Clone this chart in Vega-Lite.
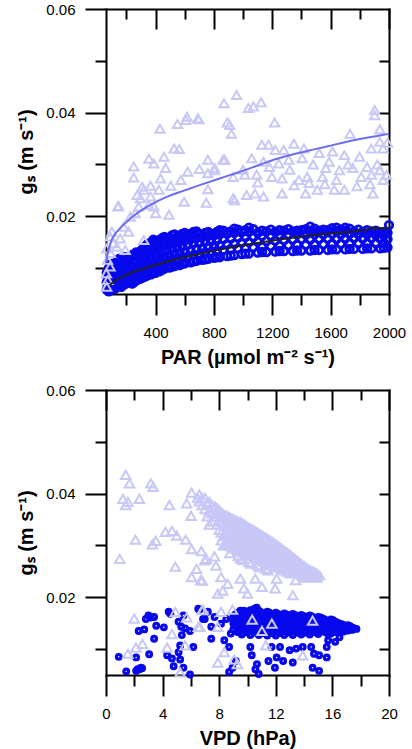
{
"$schema": "https://vega.github.io/schema/vega-lite/v6.json",
"background": "white",
"padding": {"left": 16, "top": 2, "right": 4, "bottom": 2},
"spacing": 96,
"bounds": "flush",
"config": {
  "view": {"stroke": null},
  "axis": {"grid": false, "zindex": 1, "domainColor": "#000", "domainWidth": 2, "domainCap": "square", "tickColor": "#000", "tickWidth": 2, "labelFont": "Liberation Sans", "labelFontSize": 15, "labelColor": "#000", "labelPadding": 10, "titleFont": "Liberation Sans", "titleFontSize": 20, "titleFontWeight": "bold", "titleColor": "#000", "labelFlush": false, "labelOverlap": false, "labelBound": false}
},
"datasets": {
"pt": [
{"par":955,"gs":0.0434},{"par":869,"gs":0.0418},{"par":1036,"gs":0.0409},{"par":615,"gs":0.0392},{"par":696,"gs":0.0387},{"par":550,"gs":0.0378},{"par":430,"gs":0.0369},{"par":892,"gs":0.0381},{"par":920,"gs":0.0359},{"par":527,"gs":0.0331},{"par":562,"gs":0.0330},{"par":354,"gs":0.0311},{"par":458,"gs":0.0315},{"par":388,"gs":0.0302},{"par":250,"gs":0.0296},{"par":469,"gs":0.0293},{"par":250,"gs":0.0275},{"par":758,"gs":0.0309},{"par":862,"gs":0.0309},{"par":700,"gs":0.0291},{"par":804,"gs":0.0289},{"par":620,"gs":0.0286},{"par":573,"gs":0.0270},{"par":434,"gs":0.0273},{"par":365,"gs":0.0259},{"par":308,"gs":0.0257},{"par":504,"gs":0.0259},{"par":758,"gs":0.0252},{"par":932,"gs":0.0276},{"par":1012,"gs":0.0280},{"par":296,"gs":0.0235},{"par":365,"gs":0.0238},{"par":146,"gs":0.0220},{"par":284,"gs":0.0219},{"par":354,"gs":0.0222},{"par":400,"gs":0.0206},{"par":492,"gs":0.0203},{"par":596,"gs":0.0228},{"par":747,"gs":0.0226},{"par":932,"gs":0.0235},{"par":1024,"gs":0.0241},{"par":227,"gs":0.0199},{"par":261,"gs":0.0206},{"par":100,"gs":0.0170},{"par":180,"gs":0.0180},{"par":157,"gs":0.0157},{"par":111,"gs":0.0148},{"par":215,"gs":0.0170},{"par":319,"gs":0.0154},{"par":70,"gs":0.0116},{"par":90,"gs":0.0129},{"par":62,"gs":0.0090},{"par":88,"gs":0.0103},{"par":72,"gs":0.0077},{"par":65,"gs":0.0064},
{"par":1902,"gs":0.0405},{"par":1937,"gs":0.0368},{"par":1216,"gs":0.0381},{"par":1070,"gs":0.0412},{"par":1123,"gs":0.0420},{"par":1733,"gs":0.0359},{"par":1990,"gs":0.0342},{"par":1937,"gs":0.0344},{"par":1879,"gs":0.0331},{"par":1960,"gs":0.0331},{"par":1128,"gs":0.0338},{"par":1174,"gs":0.0338},{"par":1220,"gs":0.0328},{"par":1278,"gs":0.0328},{"par":1348,"gs":0.0340},{"par":1417,"gs":0.0331},{"par":1521,"gs":0.0322},{"par":1613,"gs":0.0325},{"par":1694,"gs":0.0318},{"par":1798,"gs":0.0315},{"par":1059,"gs":0.0312},{"par":1140,"gs":0.0305},{"par":1244,"gs":0.0302},{"par":1313,"gs":0.0309},{"par":1405,"gs":0.0312},{"par":1567,"gs":0.0293},{"par":1660,"gs":0.0289},{"par":1752,"gs":0.0293},{"par":1937,"gs":0.0289},{"par":1983,"gs":0.0280},{"par":1093,"gs":0.0280},{"par":1197,"gs":0.0276},{"par":1267,"gs":0.0273},{"par":1382,"gs":0.0270},{"par":1440,"gs":0.0276},{"par":1544,"gs":0.0276},{"par":1640,"gs":0.0270},{"par":1810,"gs":0.0276},{"par":1960,"gs":0.0270},{"par":1452,"gs":0.0264},{"par":1428,"gs":0.0244},{"par":1509,"gs":0.0251},{"par":1081,"gs":0.0244},{"par":1140,"gs":0.0238},{"par":1267,"gs":0.0244},{"par":1625,"gs":0.0251},{"par":1694,"gs":0.0251},{"par":1890,"gs":0.0244},{"par":942,"gs":0.0231},{"par":758,"gs":0.0283},{"par":804,"gs":0.0293},{"par":874,"gs":0.0309},{"par":908,"gs":0.0376},{"par":1902,"gs":0.0395},{"par":1180,"gs":0.0295},{"par":1320,"gs":0.0290},{"par":1480,"gs":0.0300},{"par":1590,"gs":0.0305},{"par":1720,"gs":0.0300},{"par":1850,"gs":0.0295},{"par":1920,"gs":0.0300},{"par":1350,"gs":0.0260},{"par":1560,"gs":0.0262},{"par":1780,"gs":0.0258},{"par":1870,"gs":0.0262},{"par":1100,"gs":0.0265},{"par":1000,"gs":0.0290},{"par":1880,"gs":0.0280},{"par":89,"gs":0.0161},{"par":134,"gs":0.0141},{"par":192,"gs":0.0135},{"par":65,"gs":0.0138},{"par":273,"gs":0.0241},{"par":319,"gs":0.0251},{"par":423,"gs":0.0251},{"par":388,"gs":0.0219},{"par":141,"gs":0.0219},{"par":608,"gs":0.0386},{"par":689,"gs":0.0389}
],
"pc": [
{"par":65,"gs":0.0058},{"par":65,"gs":0.0072},{"par":65,"gs":0.0090},
{"par":80,"gs":0.0055},{"par":80,"gs":0.0068},{"par":80,"gs":0.0084},{"par":80,"gs":0.0100},
{"par":100,"gs":0.0062},{"par":100,"gs":0.0078},{"par":100,"gs":0.0094},{"par":100,"gs":0.0108},
{"par":120,"gs":0.0060},{"par":120,"gs":0.0075},{"par":120,"gs":0.0090},{"par":120,"gs":0.0106},
{"par":140,"gs":0.0066},{"par":140,"gs":0.0082},{"par":140,"gs":0.0099},{"par":140,"gs":0.0115},
{"par":165,"gs":0.0064},{"par":165,"gs":0.0079},{"par":165,"gs":0.0093},{"par":165,"gs":0.0110},
{"par":190,"gs":0.0069},{"par":190,"gs":0.0087},{"par":190,"gs":0.0104},{"par":190,"gs":0.0121},
{"par":215,"gs":0.0072},{"par":215,"gs":0.0090},{"par":215,"gs":0.0112},
{"par":240,"gs":0.0070},{"par":240,"gs":0.0085},{"par":240,"gs":0.0101},{"par":240,"gs":0.0125},
{"par":265,"gs":0.0076},{"par":265,"gs":0.0094},{"par":265,"gs":0.0114},{"par":265,"gs":0.0130},
{"par":290,"gs":0.0079},{"par":290,"gs":0.0097},{"par":290,"gs":0.0118},
{"par":315,"gs":0.0082},{"par":315,"gs":0.0101},{"par":315,"gs":0.0122},{"par":315,"gs":0.0138},
{"par":345,"gs":0.0086},{"par":345,"gs":0.0106},{"par":345,"gs":0.0127},{"par":345,"gs":0.0146},
{"par":370,"gs":0.0088},{"par":370,"gs":0.0110},{"par":370,"gs":0.0132},{"par":370,"gs":0.0150},
{"par":400,"gs":0.0091},{"par":400,"gs":0.0112},{"par":400,"gs":0.0135},{"par":400,"gs":0.0152},
{"par":430,"gs":0.0094},{"par":430,"gs":0.0116},{"par":430,"gs":0.0139},{"par":430,"gs":0.0155},
{"par":460,"gs":0.0099},{"par":460,"gs":0.0121},{"par":460,"gs":0.0144},{"par":460,"gs":0.0160},
{"par":495,"gs":0.0101},{"par":495,"gs":0.0124},{"par":495,"gs":0.0146},{"par":495,"gs":0.0158},
{"par":530,"gs":0.0104},{"par":530,"gs":0.0127},{"par":530,"gs":0.0149},{"par":530,"gs":0.0165},
{"par":565,"gs":0.0106},{"par":565,"gs":0.0129},{"par":565,"gs":0.0151},{"par":565,"gs":0.0162},
{"par":600,"gs":0.0109},{"par":600,"gs":0.0131},{"par":600,"gs":0.0153},{"par":600,"gs":0.0168},
{"par":640,"gs":0.0111},{"par":640,"gs":0.0134},{"par":640,"gs":0.0156},{"par":640,"gs":0.0166},
{"par":680,"gs":0.0114},{"par":680,"gs":0.0137},{"par":680,"gs":0.0158},{"par":680,"gs":0.0171},
{"par":720,"gs":0.0116},{"par":720,"gs":0.0138},{"par":720,"gs":0.0160},
{"par":760,"gs":0.0118},{"par":760,"gs":0.0141},{"par":760,"gs":0.0162},{"par":760,"gs":0.0170},
{"par":800,"gs":0.0120},{"par":800,"gs":0.0143},{"par":800,"gs":0.0163},
{"par":840,"gs":0.0121},{"par":840,"gs":0.0144},{"par":840,"gs":0.0165},{"par":840,"gs":0.0173},
{"par":890,"gs":0.0123},{"par":890,"gs":0.0146},{"par":890,"gs":0.0166},
{"par":940,"gs":0.0125},{"par":940,"gs":0.0147},{"par":940,"gs":0.0168},{"par":940,"gs":0.0176},
{"par":990,"gs":0.0127},{"par":990,"gs":0.0149},{"par":990,"gs":0.0169},
{"par":1040,"gs":0.0128},{"par":1040,"gs":0.0150},{"par":1040,"gs":0.0170},{"par":1040,"gs":0.0178},
{"par":1100,"gs":0.0130},{"par":1100,"gs":0.0151},{"par":1100,"gs":0.0168},
{"par":1160,"gs":0.0131},{"par":1160,"gs":0.0152},{"par":1160,"gs":0.0171},
{"par":1220,"gs":0.0132},{"par":1220,"gs":0.0153},{"par":1220,"gs":0.0170},
{"par":1280,"gs":0.0133},{"par":1280,"gs":0.0154},{"par":1280,"gs":0.0172},
{"par":1340,"gs":0.0133},{"par":1340,"gs":0.0155},{"par":1340,"gs":0.0171},
{"par":1400,"gs":0.0134},{"par":1400,"gs":0.0156},{"par":1400,"gs":0.0173},
{"par":1460,"gs":0.0134},{"par":1460,"gs":0.0155},{"par":1460,"gs":0.0171},{"par":1460,"gs":0.0180},
{"par":1520,"gs":0.0135},{"par":1520,"gs":0.0156},{"par":1520,"gs":0.0172},
{"par":1580,"gs":0.0135},{"par":1580,"gs":0.0157},{"par":1580,"gs":0.0173},
{"par":1640,"gs":0.0136},{"par":1640,"gs":0.0156},{"par":1640,"gs":0.0171},{"par":1640,"gs":0.0178},
{"par":1700,"gs":0.0136},{"par":1700,"gs":0.0157},{"par":1700,"gs":0.0172},{"par":1700,"gs":0.0178},
{"par":1760,"gs":0.0137},{"par":1760,"gs":0.0158},{"par":1760,"gs":0.0171},
{"par":1820,"gs":0.0137},{"par":1820,"gs":0.0157},{"par":1820,"gs":0.0170},
{"par":1880,"gs":0.0138},{"par":1880,"gs":0.0158},{"par":1880,"gs":0.0171},
{"par":1940,"gs":0.0138},{"par":1940,"gs":0.0157},{"par":1940,"gs":0.0169},
{"par":1990,"gs":0.0140},{"par":1990,"gs":0.0156},{"par":1990,"gs":0.0168},
{"par":2000,"gs":0.0183},
{"par":72,"gs":0.0064},{"par":72,"gs":0.0080},{"par":72,"gs":0.0095},
{"par":90,"gs":0.0060},{"par":90,"gs":0.0073},{"par":90,"gs":0.0088},{"par":90,"gs":0.0103},
{"par":110,"gs":0.0069},{"par":110,"gs":0.0085},{"par":110,"gs":0.0100},
{"par":130,"gs":0.0063},{"par":130,"gs":0.0078},{"par":130,"gs":0.0094},{"par":130,"gs":0.0110},
{"par":152,"gs":0.0072},{"par":152,"gs":0.0088},{"par":152,"gs":0.0104},{"par":152,"gs":0.0118},
{"par":178,"gs":0.0067},{"par":178,"gs":0.0084},{"par":178,"gs":0.0098},{"par":178,"gs":0.0115},
{"par":202,"gs":0.0073},{"par":202,"gs":0.0095},{"par":202,"gs":0.0116},
{"par":228,"gs":0.0078},{"par":228,"gs":0.0096},{"par":228,"gs":0.0106},{"par":228,"gs":0.0120},
{"par":252,"gs":0.0073},{"par":252,"gs":0.0090},{"par":252,"gs":0.0108},{"par":252,"gs":0.0127},
{"par":278,"gs":0.0082},{"par":278,"gs":0.0104},{"par":278,"gs":0.0124},
{"par":302,"gs":0.0081},{"par":302,"gs":0.0090},{"par":302,"gs":0.0108},{"par":302,"gs":0.0128},{"par":302,"gs":0.0134},
{"par":330,"gs":0.0084},{"par":330,"gs":0.0094},{"par":330,"gs":0.0114},{"par":330,"gs":0.0134},{"par":330,"gs":0.0142},
{"par":358,"gs":0.0098},{"par":358,"gs":0.0118},{"par":358,"gs":0.0140},
{"par":385,"gs":0.0092},{"par":385,"gs":0.0100},{"par":385,"gs":0.0121},{"par":385,"gs":0.0142},{"par":385,"gs":0.0155},
{"par":415,"gs":0.0104},{"par":415,"gs":0.0125},{"par":415,"gs":0.0146},
{"par":445,"gs":0.0097},{"par":445,"gs":0.0108},{"par":445,"gs":0.0130},{"par":445,"gs":0.0150},{"par":445,"gs":0.0158},
{"par":478,"gs":0.0112},{"par":478,"gs":0.0133},{"par":478,"gs":0.0154},
{"par":512,"gs":0.0103},{"par":512,"gs":0.0115},{"par":512,"gs":0.0137},{"par":512,"gs":0.0157},{"par":512,"gs":0.0163},
{"par":548,"gs":0.0118},{"par":548,"gs":0.0140},{"par":548,"gs":0.0158},
{"par":582,"gs":0.0108},{"par":582,"gs":0.0120},{"par":582,"gs":0.0142},{"par":582,"gs":0.0160},{"par":582,"gs":0.0166},
{"par":620,"gs":0.0122},{"par":620,"gs":0.0145},{"par":620,"gs":0.0162},
{"par":660,"gs":0.0113},{"par":660,"gs":0.0125},{"par":660,"gs":0.0148},{"par":660,"gs":0.0164},{"par":660,"gs":0.0170},
{"par":700,"gs":0.0127},{"par":700,"gs":0.0149},{"par":700,"gs":0.0166},
{"par":740,"gs":0.0117},{"par":740,"gs":0.0130},{"par":740,"gs":0.0151},{"par":740,"gs":0.0168},
{"par":780,"gs":0.0131},{"par":780,"gs":0.0152},{"par":780,"gs":0.0166},
{"par":820,"gs":0.0121},{"par":820,"gs":0.0133},{"par":820,"gs":0.0154},{"par":820,"gs":0.0170},
{"par":865,"gs":0.0135},{"par":865,"gs":0.0156},{"par":865,"gs":0.0172},
{"par":915,"gs":0.0124},{"par":915,"gs":0.0137},{"par":915,"gs":0.0157},{"par":915,"gs":0.0171},
{"par":965,"gs":0.0138},{"par":965,"gs":0.0159},{"par":965,"gs":0.0174},
{"par":1015,"gs":0.0128},{"par":1015,"gs":0.0139},{"par":1015,"gs":0.0160},{"par":1015,"gs":0.0173},
{"par":1070,"gs":0.0140},{"par":1070,"gs":0.0160},{"par":1070,"gs":0.0175},
{"par":1130,"gs":0.0131},{"par":1130,"gs":0.0141},{"par":1130,"gs":0.0162},{"par":1130,"gs":0.0172},
{"par":1190,"gs":0.0142},{"par":1190,"gs":0.0162},{"par":1190,"gs":0.0174},
{"par":1250,"gs":0.0133},{"par":1250,"gs":0.0143},{"par":1250,"gs":0.0163},{"par":1250,"gs":0.0173},
{"par":1310,"gs":0.0144},{"par":1310,"gs":0.0164},{"par":1310,"gs":0.0175},
{"par":1370,"gs":0.0134},{"par":1370,"gs":0.0145},{"par":1370,"gs":0.0165},{"par":1370,"gs":0.0172},
{"par":1430,"gs":0.0145},{"par":1430,"gs":0.0164},{"par":1430,"gs":0.0175},
{"par":1490,"gs":0.0135},{"par":1490,"gs":0.0146},{"par":1490,"gs":0.0165},{"par":1490,"gs":0.0176},
{"par":1550,"gs":0.0146},{"par":1550,"gs":0.0165},{"par":1550,"gs":0.0174},
{"par":1610,"gs":0.0136},{"par":1610,"gs":0.0147},{"par":1610,"gs":0.0166},{"par":1610,"gs":0.0177},
{"par":1670,"gs":0.0147},{"par":1670,"gs":0.0165},{"par":1670,"gs":0.0174},
{"par":1730,"gs":0.0137},{"par":1730,"gs":0.0148},{"par":1730,"gs":0.0166},{"par":1730,"gs":0.0176},
{"par":1790,"gs":0.0148},{"par":1790,"gs":0.0165},{"par":1790,"gs":0.0174},
{"par":1850,"gs":0.0138},{"par":1850,"gs":0.0148},{"par":1850,"gs":0.0165},{"par":1850,"gs":0.0173},
{"par":1910,"gs":0.0148},{"par":1910,"gs":0.0164},{"par":1910,"gs":0.0172},
{"par":1965,"gs":0.0139},{"par":1965,"gs":0.0148},{"par":1965,"gs":0.0163},{"par":1965,"gs":0.0170}
],
"pfl": [
{"par":60,"gs":0.0112},{"par":75,"gs":0.0132},{"par":90,"gs":0.0148},{"par":120,"gs":0.0165},{"par":157,"gs":0.0177},{"par":200,"gs":0.0189},{"par":250,"gs":0.0201},{"par":300,"gs":0.0211},{"par":365,"gs":0.0222},{"par":480,"gs":0.0238},{"par":600,"gs":0.0250},{"par":712,"gs":0.0261},{"par":850,"gs":0.0274},{"par":990,"gs":0.0287},{"par":1100,"gs":0.0298},{"par":1220,"gs":0.0310},{"par":1350,"gs":0.0320},{"par":1452,"gs":0.0327},{"par":1580,"gs":0.0335},{"par":1682,"gs":0.0342},{"par":1800,"gs":0.0349},{"par":1900,"gs":0.0354},{"par":2000,"gs":0.0359}
],
"pfb": [
{"par":83,"gs":0.0067},{"par":120,"gs":0.0075},{"par":160,"gs":0.0082},{"par":250,"gs":0.0093},{"par":365,"gs":0.0103},{"par":500,"gs":0.0114},{"par":600,"gs":0.0121},{"par":712,"gs":0.0128},{"par":900,"gs":0.0139},{"par":1059,"gs":0.0147},{"par":1250,"gs":0.0155},{"par":1452,"gs":0.0163},{"par":1650,"gs":0.0168},{"par":1775,"gs":0.0171},{"par":1850,"gs":0.0174},{"par":1870,"gs":0.0177},{"par":2000,"gs":0.0177}
],
"vt": [
{"vpd":1.39,"gs":0.0436},{"vpd":1.66,"gs":0.0420},{"vpd":3.17,"gs":0.0420},{"vpd":3.33,"gs":0.0413},{"vpd":1.2,"gs":0.0390},{"vpd":1.55,"gs":0.0384},{"vpd":1.39,"gs":0.0378},{"vpd":2.36,"gs":0.0390},{"vpd":4.48,"gs":0.0378},{"vpd":5.7,"gs":0.0381},{"vpd":6.05,"gs":0.0402},{"vpd":6.47,"gs":0.0392},{"vpd":6.01,"gs":0.0357},{"vpd":2.08,"gs":0.0311},{"vpd":3.28,"gs":0.0302},{"vpd":3.52,"gs":0.0309},{"vpd":4.2,"gs":0.0326},{"vpd":4.66,"gs":0.0328},{"vpd":5.0,"gs":0.0319},{"vpd":5.63,"gs":0.0311},{"vpd":6.05,"gs":0.0293},{"vpd":0.97,"gs":0.0274},{"vpd":4.9,"gs":0.0259},{"vpd":6.05,"gs":0.0239},{"vpd":6.4,"gs":0.0255},{"vpd":6.79,"gs":0.0232},{"vpd":7.09,"gs":0.0274},{"vpd":2.0,"gs":0.0159},{"vpd":4.9,"gs":0.0172},{"vpd":5.7,"gs":0.0161},{"vpd":4.66,"gs":0.0129},{"vpd":4.32,"gs":0.0103},{"vpd":6.52,"gs":0.0143},{"vpd":1.55,"gs":0.0091},{"vpd":2.12,"gs":0.0103},{"vpd":2.58,"gs":0.0110},{"vpd":5.24,"gs":0.0055},{"vpd":5.59,"gs":0.0107},{"vpd":6.79,"gs":0.0175},
{"vpd":6.6,"gs":0.0398},{"vpd":6.6,"gs":0.0385},{"vpd":7.0,"gs":0.0392},{"vpd":7.0,"gs":0.0370},{"vpd":7.3,"gs":0.0384},{"vpd":7.3,"gs":0.0366},{"vpd":7.3,"gs":0.0340},{"vpd":7.7,"gs":0.0375},{"vpd":7.7,"gs":0.0355},{"vpd":8.0,"gs":0.0368},{"vpd":8.0,"gs":0.0350},{"vpd":8.0,"gs":0.0330},{"vpd":8.3,"gs":0.0360},{"vpd":8.3,"gs":0.0342},{"vpd":8.3,"gs":0.0318},{"vpd":8.3,"gs":0.0300},{"vpd":8.6,"gs":0.0356},{"vpd":8.6,"gs":0.0338},{"vpd":8.6,"gs":0.0322},{"vpd":8.6,"gs":0.0305},{"vpd":8.9,"gs":0.0352},{"vpd":8.9,"gs":0.0334},{"vpd":8.9,"gs":0.0316},{"vpd":8.9,"gs":0.0298},{"vpd":9.2,"gs":0.0348},{"vpd":9.2,"gs":0.0332},{"vpd":9.2,"gs":0.0312},{"vpd":9.2,"gs":0.0293},{"vpd":9.5,"gs":0.0345},{"vpd":9.5,"gs":0.0328},{"vpd":9.5,"gs":0.0310},{"vpd":9.5,"gs":0.0290},{"vpd":9.5,"gs":0.0275},{"vpd":9.8,"gs":0.0340},{"vpd":9.8,"gs":0.0322},{"vpd":9.8,"gs":0.0305},{"vpd":9.8,"gs":0.0288},{"vpd":10.1,"gs":0.0334},{"vpd":10.1,"gs":0.0318},{"vpd":10.1,"gs":0.0300},{"vpd":10.1,"gs":0.0284},{"vpd":10.1,"gs":0.0268},{"vpd":10.4,"gs":0.0330},{"vpd":10.4,"gs":0.0314},{"vpd":10.4,"gs":0.0297},{"vpd":10.4,"gs":0.0280},{"vpd":10.7,"gs":0.0325},{"vpd":10.7,"gs":0.0309},{"vpd":10.7,"gs":0.0292},{"vpd":10.7,"gs":0.0276},{"vpd":10.7,"gs":0.0262},{"vpd":11.0,"gs":0.0320},{"vpd":11.0,"gs":0.0304},{"vpd":11.0,"gs":0.0288},{"vpd":11.0,"gs":0.0272},{"vpd":11.3,"gs":0.0315},{"vpd":11.3,"gs":0.0300},{"vpd":11.3,"gs":0.0284},{"vpd":11.3,"gs":0.0268},{"vpd":11.3,"gs":0.0255},{"vpd":11.6,"gs":0.0310},{"vpd":11.6,"gs":0.0295},{"vpd":11.6,"gs":0.0280},{"vpd":11.6,"gs":0.0264},{"vpd":11.9,"gs":0.0304},{"vpd":11.9,"gs":0.0290},{"vpd":11.9,"gs":0.0276},{"vpd":11.9,"gs":0.0260},{"vpd":12.2,"gs":0.0298},{"vpd":12.2,"gs":0.0285},{"vpd":12.2,"gs":0.0271},{"vpd":12.2,"gs":0.0258},{"vpd":12.5,"gs":0.0292},{"vpd":12.5,"gs":0.0280},{"vpd":12.5,"gs":0.0266},{"vpd":12.5,"gs":0.0254},{"vpd":12.8,"gs":0.0286},{"vpd":12.8,"gs":0.0274},{"vpd":12.8,"gs":0.0262},{"vpd":12.8,"gs":0.0250},{"vpd":13.1,"gs":0.0280},{"vpd":13.1,"gs":0.0268},{"vpd":13.1,"gs":0.0256},{"vpd":13.1,"gs":0.0246},{"vpd":13.4,"gs":0.0273},{"vpd":13.4,"gs":0.0262},{"vpd":13.4,"gs":0.0250},{"vpd":13.7,"gs":0.0266},{"vpd":13.7,"gs":0.0256},{"vpd":13.7,"gs":0.0246},{"vpd":14.0,"gs":0.0260},{"vpd":14.0,"gs":0.0250},{"vpd":14.0,"gs":0.0240},{"vpd":14.3,"gs":0.0254},{"vpd":14.3,"gs":0.0244},{"vpd":14.6,"gs":0.0250},{"vpd":14.6,"gs":0.0240},{"vpd":14.9,"gs":0.0246},{"vpd":14.9,"gs":0.0238},{"vpd":15.1,"gs":0.0242},
{"vpd":6.8,"gs":0.0391},{"vpd":6.8,"gs":0.0378},{"vpd":7.15,"gs":0.0380},{"vpd":7.15,"gs":0.0356},{"vpd":7.5,"gs":0.0378},{"vpd":7.5,"gs":0.0362},{"vpd":7.5,"gs":0.0346},{"vpd":7.85,"gs":0.0372},{"vpd":7.85,"gs":0.0360},{"vpd":7.85,"gs":0.0340},{"vpd":8.15,"gs":0.0364},{"vpd":8.15,"gs":0.0346},{"vpd":8.15,"gs":0.0325},{"vpd":8.15,"gs":0.0310},{"vpd":8.45,"gs":0.0358},{"vpd":8.45,"gs":0.0340},{"vpd":8.45,"gs":0.0320},{"vpd":8.45,"gs":0.0302},{"vpd":8.75,"gs":0.0354},{"vpd":8.75,"gs":0.0336},{"vpd":8.75,"gs":0.0319},{"vpd":8.75,"gs":0.0300},{"vpd":8.75,"gs":0.0285},{"vpd":9.05,"gs":0.0350},{"vpd":9.05,"gs":0.0333},{"vpd":9.05,"gs":0.0314},{"vpd":9.05,"gs":0.0295},{"vpd":9.35,"gs":0.0346},{"vpd":9.35,"gs":0.0330},{"vpd":9.35,"gs":0.0311},{"vpd":9.35,"gs":0.0291},{"vpd":9.35,"gs":0.0280},{"vpd":9.65,"gs":0.0342},{"vpd":9.65,"gs":0.0325},{"vpd":9.65,"gs":0.0307},{"vpd":9.65,"gs":0.0289},{"vpd":9.65,"gs":0.0272},{"vpd":9.95,"gs":0.0337},{"vpd":9.95,"gs":0.0320},{"vpd":9.95,"gs":0.0302},{"vpd":9.95,"gs":0.0286},{"vpd":10.25,"gs":0.0332},{"vpd":10.25,"gs":0.0316},{"vpd":10.25,"gs":0.0298},{"vpd":10.25,"gs":0.0282},{"vpd":10.25,"gs":0.0265},{"vpd":10.55,"gs":0.0327},{"vpd":10.55,"gs":0.0311},{"vpd":10.55,"gs":0.0294},{"vpd":10.55,"gs":0.0278},{"vpd":10.85,"gs":0.0322},{"vpd":10.85,"gs":0.0306},{"vpd":10.85,"gs":0.0290},{"vpd":10.85,"gs":0.0274},{"vpd":10.85,"gs":0.0258},{"vpd":11.15,"gs":0.0317},{"vpd":11.15,"gs":0.0302},{"vpd":11.15,"gs":0.0286},{"vpd":11.15,"gs":0.0270},{"vpd":11.45,"gs":0.0312},{"vpd":11.45,"gs":0.0297},{"vpd":11.45,"gs":0.0282},{"vpd":11.45,"gs":0.0266},{"vpd":11.45,"gs":0.0252},{"vpd":11.75,"gs":0.0307},{"vpd":11.75,"gs":0.0292},{"vpd":11.75,"gs":0.0278},{"vpd":11.75,"gs":0.0262},{"vpd":12.05,"gs":0.0301},{"vpd":12.05,"gs":0.0287},{"vpd":12.05,"gs":0.0273},{"vpd":12.05,"gs":0.0259},{"vpd":12.35,"gs":0.0295},{"vpd":12.35,"gs":0.0282},{"vpd":12.35,"gs":0.0268},{"vpd":12.35,"gs":0.0256},{"vpd":12.65,"gs":0.0289},{"vpd":12.65,"gs":0.0277},{"vpd":12.65,"gs":0.0264},{"vpd":12.65,"gs":0.0252},{"vpd":12.95,"gs":0.0283},{"vpd":12.95,"gs":0.0271},{"vpd":12.95,"gs":0.0259},{"vpd":12.95,"gs":0.0248},{"vpd":13.25,"gs":0.0276},{"vpd":13.25,"gs":0.0265},{"vpd":13.25,"gs":0.0253},{"vpd":13.55,"gs":0.0270},{"vpd":13.55,"gs":0.0259},{"vpd":13.55,"gs":0.0248},{"vpd":13.85,"gs":0.0263},{"vpd":13.85,"gs":0.0253},{"vpd":13.85,"gs":0.0243},{"vpd":14.15,"gs":0.0257},{"vpd":14.15,"gs":0.0247},{"vpd":14.15,"gs":0.0238},{"vpd":14.45,"gs":0.0252},{"vpd":14.45,"gs":0.0242},{"vpd":14.75,"gs":0.0248},{"vpd":14.75,"gs":0.0239},
{"vpd":6.98,"gs":0.0271},{"vpd":7.77,"gs":0.0261},{"vpd":6.7,"gs":0.0233},{"vpd":8.13,"gs":0.0239},{"vpd":8.6,"gs":0.0226},{"vpd":8.25,"gs":0.0213},{"vpd":9.5,"gs":0.0236},{"vpd":9.74,"gs":0.0217},{"vpd":10.55,"gs":0.0236},{"vpd":11.02,"gs":0.0220},{"vpd":12.06,"gs":0.0236},{"vpd":11.95,"gs":0.0217},{"vpd":13.2,"gs":0.0204},{"vpd":13.4,"gs":0.0233},{"vpd":7.9,"gs":0.0207},{"vpd":10.0,"gs":0.0207},{"vpd":6.74,"gs":0.0289},{"vpd":7.67,"gs":0.0279},
{"vpd":6.86,"gs":0.0176},{"vpd":8.13,"gs":0.0172},{"vpd":8.94,"gs":0.0176},{"vpd":10.33,"gs":0.0157},{"vpd":11.72,"gs":0.0149},{"vpd":11.02,"gs":0.0135},{"vpd":14.6,"gs":0.0155},{"vpd":11.3,"gs":0.0107},{"vpd":13.9,"gs":0.0088},{"vpd":8.36,"gs":0.0094},{"vpd":7.9,"gs":0.0074},{"vpd":9.29,"gs":0.0071},{"vpd":9.06,"gs":0.0080},{"vpd":6.63,"gs":0.0143},{"vpd":7.9,"gs":0.0143}
],
"vc": [
{"vpd":0.9,"gs":0.0085},{"vpd":1.43,"gs":0.0057},{"vpd":2.13,"gs":0.0058},{"vpd":2.36,"gs":0.0061},{"vpd":2.55,"gs":0.0063},{"vpd":2.13,"gs":0.0084},{"vpd":2.31,"gs":0.0135},{"vpd":2.7,"gs":0.0138},{"vpd":2.82,"gs":0.0158},{"vpd":3.16,"gs":0.0161},{"vpd":3.4,"gs":0.0162},{"vpd":3.05,"gs":0.0090},{"vpd":3.4,"gs":0.0120},{"vpd":3.55,"gs":0.0145},{"vpd":4.09,"gs":0.0142},{"vpd":4.43,"gs":0.0172},{"vpd":4.32,"gs":0.0088},{"vpd":4.66,"gs":0.0082},{"vpd":4.78,"gs":0.0067},{"vpd":5.24,"gs":0.0080},{"vpd":5.47,"gs":0.0064},{"vpd":5.13,"gs":0.0094},{"vpd":5.13,"gs":0.0153},{"vpd":5.32,"gs":0.0143},{"vpd":5.36,"gs":0.0127},{"vpd":5.59,"gs":0.0140},{"vpd":5.94,"gs":0.0135},{"vpd":5.24,"gs":0.0107},{"vpd":5.94,"gs":0.0051},{"vpd":6.17,"gs":0.0104},{"vpd":6.52,"gs":0.0178},{"vpd":6.86,"gs":0.0158},{"vpd":5.47,"gs":0.0165},{"vpd":3.0,"gs":0.0165},{"vpd":4.55,"gs":0.0168},{"vpd":2.24,"gs":0.0061},{"vpd":2.47,"gs":0.0064},
{"vpd":6.98,"gs":0.0158},{"vpd":7.44,"gs":0.0143},{"vpd":7.44,"gs":0.0120},{"vpd":8.36,"gs":0.0117},{"vpd":8.7,"gs":0.0104},{"vpd":8.82,"gs":0.0130},{"vpd":9.29,"gs":0.0168},{"vpd":9.5,"gs":0.0174},{"vpd":9.06,"gs":0.0155},{"vpd":8.7,"gs":0.0056},{"vpd":8.94,"gs":0.0064},{"vpd":9.17,"gs":0.0077},{"vpd":10.2,"gs":0.0104},{"vpd":10.3,"gs":0.0088},{"vpd":10.79,"gs":0.0052},{"vpd":10.67,"gs":0.0071},{"vpd":10.56,"gs":0.0061},{"vpd":11.48,"gs":0.0077},{"vpd":11.94,"gs":0.0064},{"vpd":12.06,"gs":0.0084},{"vpd":12.52,"gs":0.0077},{"vpd":13.2,"gs":0.0074},{"vpd":11.7,"gs":0.0104},{"vpd":12.3,"gs":0.0104},{"vpd":12.98,"gs":0.0098},{"vpd":13.44,"gs":0.0101},{"vpd":13.9,"gs":0.0104},{"vpd":14.5,"gs":0.0104},{"vpd":14.7,"gs":0.0091},{"vpd":14.6,"gs":0.0064},{"vpd":15.06,"gs":0.0058},{"vpd":15.06,"gs":0.0088},{"vpd":15.6,"gs":0.0104},{"vpd":15.7,"gs":0.0117},{"vpd":15.6,"gs":0.0084},{"vpd":16.2,"gs":0.0114},{"vpd":15.9,"gs":0.0130},{"vpd":16.5,"gs":0.0123},{"vpd":6.6,"gs":0.0176},{"vpd":7.2,"gs":0.0172},{"vpd":7.67,"gs":0.0162},{"vpd":8.13,"gs":0.0149},{"vpd":8.5,"gs":0.0158},
{"vpd":9.0,"gs":0.0138},{"vpd":9.0,"gs":0.0150},{"vpd":9.0,"gs":0.0163},
{"vpd":9.3,"gs":0.0133},{"vpd":9.3,"gs":0.0145},{"vpd":9.3,"gs":0.0157},{"vpd":9.3,"gs":0.0170},
{"vpd":9.6,"gs":0.0128},{"vpd":9.6,"gs":0.0140},{"vpd":9.6,"gs":0.0152},{"vpd":9.6,"gs":0.0164},
{"vpd":9.9,"gs":0.0133},{"vpd":9.9,"gs":0.0146},{"vpd":9.9,"gs":0.0158},{"vpd":9.9,"gs":0.0171},
{"vpd":10.2,"gs":0.0127},{"vpd":10.2,"gs":0.0139},{"vpd":10.2,"gs":0.0151},{"vpd":10.2,"gs":0.0163},{"vpd":10.2,"gs":0.0175},
{"vpd":10.5,"gs":0.0132},{"vpd":10.5,"gs":0.0144},{"vpd":10.5,"gs":0.0156},{"vpd":10.5,"gs":0.0168},{"vpd":10.5,"gs":0.0178},
{"vpd":10.8,"gs":0.0127},{"vpd":10.8,"gs":0.0139},{"vpd":10.8,"gs":0.0151},{"vpd":10.8,"gs":0.0163},{"vpd":10.8,"gs":0.0174},
{"vpd":11.1,"gs":0.0131},{"vpd":11.1,"gs":0.0143},{"vpd":11.1,"gs":0.0155},{"vpd":11.1,"gs":0.0167},
{"vpd":11.4,"gs":0.0126},{"vpd":11.4,"gs":0.0138},{"vpd":11.4,"gs":0.0150},{"vpd":11.4,"gs":0.0162},{"vpd":11.4,"gs":0.0172},
{"vpd":11.7,"gs":0.0131},{"vpd":11.7,"gs":0.0143},{"vpd":11.7,"gs":0.0155},{"vpd":11.7,"gs":0.0167},
{"vpd":12.0,"gs":0.0126},{"vpd":12.0,"gs":0.0138},{"vpd":12.0,"gs":0.0150},{"vpd":12.0,"gs":0.0161},{"vpd":12.0,"gs":0.0170},
{"vpd":12.3,"gs":0.0131},{"vpd":12.3,"gs":0.0143},{"vpd":12.3,"gs":0.0155},{"vpd":12.3,"gs":0.0166},
{"vpd":12.6,"gs":0.0127},{"vpd":12.6,"gs":0.0139},{"vpd":12.6,"gs":0.0150},{"vpd":12.6,"gs":0.0161},{"vpd":12.6,"gs":0.0169},
{"vpd":12.9,"gs":0.0132},{"vpd":12.9,"gs":0.0144},{"vpd":12.9,"gs":0.0155},{"vpd":12.9,"gs":0.0165},
{"vpd":13.2,"gs":0.0127},{"vpd":13.2,"gs":0.0138},{"vpd":13.2,"gs":0.0149},{"vpd":13.2,"gs":0.0160},{"vpd":13.2,"gs":0.0168},
{"vpd":13.5,"gs":0.0132},{"vpd":13.5,"gs":0.0143},{"vpd":13.5,"gs":0.0154},{"vpd":13.5,"gs":0.0164},
{"vpd":13.8,"gs":0.0128},{"vpd":13.8,"gs":0.0138},{"vpd":13.8,"gs":0.0148},{"vpd":13.8,"gs":0.0158},{"vpd":13.8,"gs":0.0166},
{"vpd":14.1,"gs":0.0132},{"vpd":14.1,"gs":0.0142},{"vpd":14.1,"gs":0.0152},{"vpd":14.1,"gs":0.0162},
{"vpd":14.4,"gs":0.0128},{"vpd":14.4,"gs":0.0138},{"vpd":14.4,"gs":0.0148},{"vpd":14.4,"gs":0.0158},{"vpd":14.4,"gs":0.0165},
{"vpd":14.7,"gs":0.0133},{"vpd":14.7,"gs":0.0142},{"vpd":14.7,"gs":0.0151},{"vpd":14.7,"gs":0.0160},
{"vpd":15.0,"gs":0.0129},{"vpd":15.0,"gs":0.0138},{"vpd":15.0,"gs":0.0147},{"vpd":15.0,"gs":0.0156},{"vpd":15.0,"gs":0.0162},
{"vpd":15.3,"gs":0.0134},{"vpd":15.3,"gs":0.0143},{"vpd":15.3,"gs":0.0151},{"vpd":15.3,"gs":0.0159},
{"vpd":15.6,"gs":0.0131},{"vpd":15.6,"gs":0.0139},{"vpd":15.6,"gs":0.0147},{"vpd":15.6,"gs":0.0155},
{"vpd":15.9,"gs":0.0134},{"vpd":15.9,"gs":0.0142},{"vpd":15.9,"gs":0.0150},{"vpd":15.9,"gs":0.0157},
{"vpd":16.2,"gs":0.0133},{"vpd":16.2,"gs":0.0140},{"vpd":16.2,"gs":0.0147},{"vpd":16.2,"gs":0.0153},
{"vpd":16.5,"gs":0.0135},{"vpd":16.5,"gs":0.0142},{"vpd":16.5,"gs":0.0149},
{"vpd":16.8,"gs":0.0134},{"vpd":16.8,"gs":0.0140},{"vpd":16.8,"gs":0.0146},
{"vpd":17.1,"gs":0.0136},{"vpd":17.1,"gs":0.0141},{"vpd":17.1,"gs":0.0146},
{"vpd":17.4,"gs":0.0137},{"vpd":17.4,"gs":0.0142},
{"vpd":17.7,"gs":0.0139},
{"vpd":9.15,"gs":0.0144},{"vpd":9.15,"gs":0.0156},{"vpd":9.15,"gs":0.0167},
{"vpd":9.45,"gs":0.0134},{"vpd":9.45,"gs":0.0146},{"vpd":9.45,"gs":0.0158},{"vpd":9.45,"gs":0.0170},
{"vpd":9.75,"gs":0.0139},{"vpd":9.75,"gs":0.0152},{"vpd":9.75,"gs":0.0164},{"vpd":9.75,"gs":0.0174},
{"vpd":10.05,"gs":0.0133},{"vpd":10.05,"gs":0.0145},{"vpd":10.05,"gs":0.0157},{"vpd":10.05,"gs":0.0169},
{"vpd":10.35,"gs":0.0138},{"vpd":10.35,"gs":0.0150},{"vpd":10.35,"gs":0.0162},{"vpd":10.35,"gs":0.0173},
{"vpd":10.65,"gs":0.0133},{"vpd":10.65,"gs":0.0145},{"vpd":10.65,"gs":0.0157},{"vpd":10.65,"gs":0.0169},{"vpd":10.65,"gs":0.0180},
{"vpd":10.95,"gs":0.0137},{"vpd":10.95,"gs":0.0149},{"vpd":10.95,"gs":0.0161},{"vpd":10.95,"gs":0.0171},
{"vpd":11.25,"gs":0.0132},{"vpd":11.25,"gs":0.0144},{"vpd":11.25,"gs":0.0156},{"vpd":11.25,"gs":0.0168},
{"vpd":11.55,"gs":0.0137},{"vpd":11.55,"gs":0.0149},{"vpd":11.55,"gs":0.0161},{"vpd":11.55,"gs":0.0170},
{"vpd":11.85,"gs":0.0132},{"vpd":11.85,"gs":0.0144},{"vpd":11.85,"gs":0.0156},{"vpd":11.85,"gs":0.0166},
{"vpd":12.15,"gs":0.0137},{"vpd":12.15,"gs":0.0149},{"vpd":12.15,"gs":0.0160},{"vpd":12.15,"gs":0.0168},
{"vpd":12.45,"gs":0.0133},{"vpd":12.45,"gs":0.0145},{"vpd":12.45,"gs":0.0156},{"vpd":12.45,"gs":0.0166},
{"vpd":12.75,"gs":0.0138},{"vpd":12.75,"gs":0.0149},{"vpd":12.75,"gs":0.0160},{"vpd":12.75,"gs":0.0167},
{"vpd":13.05,"gs":0.0133},{"vpd":13.05,"gs":0.0144},{"vpd":13.05,"gs":0.0155},{"vpd":13.05,"gs":0.0165},
{"vpd":13.35,"gs":0.0137},{"vpd":13.35,"gs":0.0148},{"vpd":13.35,"gs":0.0159},{"vpd":13.35,"gs":0.0166},
{"vpd":13.65,"gs":0.0133},{"vpd":13.65,"gs":0.0143},{"vpd":13.65,"gs":0.0153},{"vpd":13.65,"gs":0.0162},
{"vpd":13.95,"gs":0.0137},{"vpd":13.95,"gs":0.0147},{"vpd":13.95,"gs":0.0157},{"vpd":13.95,"gs":0.0164},
{"vpd":14.25,"gs":0.0133},{"vpd":14.25,"gs":0.0143},{"vpd":14.25,"gs":0.0153},{"vpd":14.25,"gs":0.0162},
{"vpd":14.55,"gs":0.0137},{"vpd":14.55,"gs":0.0146},{"vpd":14.55,"gs":0.0155},{"vpd":14.55,"gs":0.0163},
{"vpd":14.85,"gs":0.0134},{"vpd":14.85,"gs":0.0143},{"vpd":14.85,"gs":0.0152},{"vpd":14.85,"gs":0.0160},
{"vpd":15.15,"gs":0.0138},{"vpd":15.15,"gs":0.0147},{"vpd":15.15,"gs":0.0155},{"vpd":15.15,"gs":0.0161},
{"vpd":15.45,"gs":0.0135},{"vpd":15.45,"gs":0.0143},{"vpd":15.45,"gs":0.0151},{"vpd":15.45,"gs":0.0157},
{"vpd":15.75,"gs":0.0138},{"vpd":15.75,"gs":0.0146},{"vpd":15.75,"gs":0.0153},
{"vpd":16.05,"gs":0.0137},{"vpd":16.05,"gs":0.0144},{"vpd":16.05,"gs":0.0151},{"vpd":16.05,"gs":0.0156},
{"vpd":16.35,"gs":0.0138},{"vpd":16.35,"gs":0.0145},{"vpd":16.35,"gs":0.0151},
{"vpd":16.65,"gs":0.0137},{"vpd":16.65,"gs":0.0143},{"vpd":16.65,"gs":0.0148},
{"vpd":16.95,"gs":0.0138},{"vpd":16.95,"gs":0.0144},
{"vpd":17.25,"gs":0.0139},{"vpd":17.25,"gs":0.0144},
{"vpd":17.55,"gs":0.0140}
]
},
"vconcat": [
{
  "width": 283, "height": 285,
  "resolve": {"axis": {"x": "independent", "y": "independent"}},
  "layer": [
    {"data": {"name": "pc"}, "mark": {"type": "point", "shape": "circle", "filled": false, "color": "#0808ec", "strokeWidth": 2.8, "size": 57, "opacity": 1},
     "encoding": {
       "x": {"field": "par", "type": "quantitative", "scale": {"domain": [60, 2000], "nice": false, "zero": false},
             "axis": {"orient": "bottom", "values": [400, 800, 1200, 1600, 2000], "format": "d", "tickSize": 21, "labelPadding": 10, "title": "PAR (µmol m⁻² s⁻¹)", "titlePadding": 7}},
       "y": {"field": "gs", "type": "quantitative", "scale": {"domain": [0.005, 0.06], "nice": false, "zero": false},
             "axis": {"orient": "left", "values": [0.02, 0.04, 0.06], "format": ".2f", "tickSize": 21, "labelPadding": 10, "title": "gₛ (m s⁻¹)", "titlePadding": 9}}
     }},
    {"data": {"name": "pt"}, "mark": {"type": "point", "shape": "triangle-up", "filled": false, "color": "#c8c8f6", "strokeWidth": 2, "size": 85, "opacity": 1},
     "encoding": {"x": {"field": "par", "type": "quantitative", "axis": null}, "y": {"field": "gs", "type": "quantitative", "axis": null}}},
    {"data": {"name": "pfl"}, "mark": {"type": "line", "color": "#6e6ef0", "strokeWidth": 2, "interpolate": "monotone"},
     "encoding": {"x": {"field": "par", "type": "quantitative", "axis": null}, "y": {"field": "gs", "type": "quantitative", "axis": null}}},
    {"data": {"name": "pfb"}, "mark": {"type": "line", "color": "#222222", "strokeWidth": 2},
     "encoding": {"x": {"field": "par", "type": "quantitative", "axis": null}, "y": {"field": "gs", "type": "quantitative", "axis": null}}},
    {"data": {"name": "pfb"}, "mark": {"type": "point", "opacity": 0},
     "encoding": {"x": {"field": "par", "type": "quantitative", "axis": {"orient": "bottom", "values": [200, 600, 1000, 1400, 1800], "tickSize": 11, "labels": false, "domain": false, "title": null}},
                  "y": {"field": "gs", "type": "quantitative", "axis": {"orient": "left", "values": [0.01, 0.03, 0.05], "tickSize": 11, "labels": false, "domain": false, "title": null}}}},
    {"data": {"name": "pfb"}, "mark": {"type": "point", "opacity": 0},
     "encoding": {"x": {"field": "par", "type": "quantitative", "axis": {"orient": "top", "values": [400, 800, 1200, 1600, 2000], "tickSize": -20, "labels": false, "domain": true, "title": null}},
                  "y": {"field": "gs", "type": "quantitative", "axis": {"orient": "right", "values": [0.01, 0.02, 0.03, 0.04, 0.05], "tickSize": -10, "labels": false, "domain": true, "title": null}}}},
    {"data": {"name": "pfb"}, "mark": {"type": "point", "opacity": 0},
     "encoding": {"x": {"field": "par", "type": "quantitative", "axis": {"orient": "top", "values": [200, 600, 1000, 1400, 1800], "tickSize": -10, "labels": false, "domain": false, "title": null}},
                  "y": {"field": "gs", "type": "quantitative", "axis": null}}}
  ]
},
{
  "width": 283, "height": 285,
  "resolve": {"axis": {"x": "independent", "y": "independent"}},
  "layer": [
    {"data": {"name": "vc"}, "mark": {"type": "point", "shape": "circle", "filled": false, "color": "#0808ec", "strokeWidth": 3.2, "size": 22, "opacity": 1},
     "encoding": {
       "x": {"field": "vpd", "type": "quantitative", "scale": {"domain": [0, 20], "nice": false, "zero": false},
             "axis": {"orient": "bottom", "values": [0, 4, 8, 12, 16, 20], "format": "d", "tickSize": 21, "labelPadding": 10, "title": "VPD (hPa)", "titlePadding": 7}},
       "y": {"field": "gs", "type": "quantitative", "scale": {"domain": [0.005, 0.06], "nice": false, "zero": false},
             "axis": {"orient": "left", "values": [0.02, 0.04, 0.06], "format": ".2f", "tickSize": 21, "labelPadding": 10, "title": "gₛ (m s⁻¹)", "titlePadding": 9}}
     }},
    {"data": {"name": "vt"}, "mark": {"type": "point", "shape": "triangle-up", "filled": false, "color": "#c8c8f6", "strokeWidth": 2, "size": 90, "opacity": 1},
     "encoding": {"x": {"field": "vpd", "type": "quantitative", "axis": null}, "y": {"field": "gs", "type": "quantitative", "axis": null}}},
    {"data": {"name": "vc"}, "mark": {"type": "point", "opacity": 0},
     "encoding": {"x": {"field": "vpd", "type": "quantitative", "axis": {"orient": "bottom", "values": [2, 6, 10, 14, 18], "tickSize": 11, "labels": false, "domain": false, "title": null}},
                  "y": {"field": "gs", "type": "quantitative", "axis": {"orient": "left", "values": [0.01, 0.03, 0.05], "tickSize": 11, "labels": false, "domain": false, "title": null}}}},
    {"data": {"name": "vc"}, "mark": {"type": "point", "opacity": 0},
     "encoding": {"x": {"field": "vpd", "type": "quantitative", "axis": {"orient": "top", "values": [0, 4, 8, 12, 16, 20], "tickSize": -20, "labels": false, "domain": true, "title": null}},
                  "y": {"field": "gs", "type": "quantitative", "axis": {"orient": "right", "values": [0.01, 0.02, 0.03, 0.04, 0.05], "tickSize": -10, "labels": false, "domain": true, "title": null}}}},
    {"data": {"name": "vc"}, "mark": {"type": "point", "opacity": 0},
     "encoding": {"x": {"field": "vpd", "type": "quantitative", "axis": {"orient": "top", "values": [2, 6, 10, 14, 18], "tickSize": -10, "labels": false, "domain": false, "title": null}},
                  "y": {"field": "gs", "type": "quantitative", "axis": null}}}
  ]
}
]
}
